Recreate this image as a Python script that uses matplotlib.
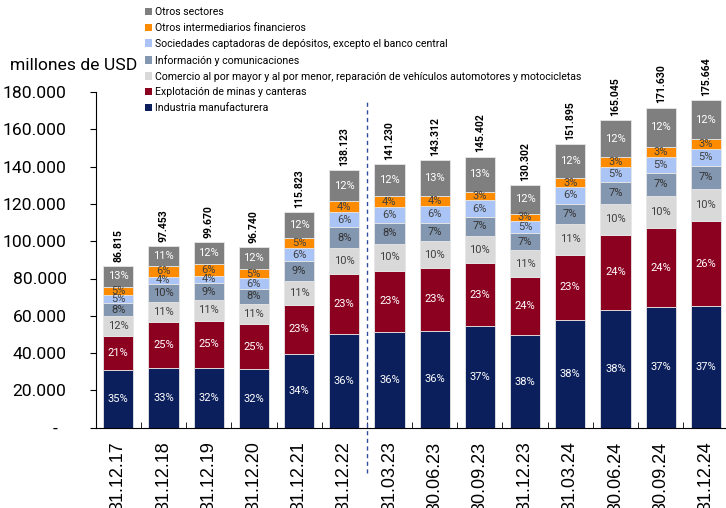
import matplotlib.pyplot as plt
import numpy as np
from matplotlib.patches import Patch

fechas = ['31.12.17', '31.12.18', '31.12.19', '31.12.20', '31.12.21', '31.12.22',
          '31.03.23', '30.06.23', '30.09.23', '31.12.23', '31.03.24', '30.06.24',
          '30.09.24', '31.12.24']
totales = [86815, 97453, 99670, 96740, 115823, 138123, 141230, 143312, 145402,
           130302, 151895, 165045, 171630, 175664]

# participacion (%) de cada sector, de abajo hacia arriba
industria = [35, 33, 32, 32, 34, 36, 36, 36, 37, 38, 38, 38, 37, 37]
minas = [21, 25, 25, 25, 23, 23, 23, 23, 23, 24, 23, 24, 24, 26]
comercio = [12, 11, 11, 11, 11, 10, 10, 10, 10, 11, 11, 10, 10, 10]
informacion = [8, 10, 9, 8, 9, 8, 8, 7, 7, 7, 7, 7, 7, 7]
sociedades = [5, 4, 4, 6, 6, 6, 6, 6, 6, 5, 6, 5, 5, 5]
otros_interm = [5, 6, 6, 5, 5, 4, 4, 4, 3, 3, 3, 3, 3, 3]
otros_sectores = [13, 11, 12, 12, 12, 12, 12, 13, 13, 12, 12, 12, 12, 12]

series = [
    ('Industria manufacturera', industria, '#0b1f5c', 'white'),
    ('Explotación de minas y canteras', minas, '#8c0020', 'white'),
    ('Comercio al por mayor y al por menor, reparación de vehículos automotores y motocicletas',
     comercio, '#d9d9d9', '#404040'),
    ('Información y comunicaciones', informacion, '#8497b0', '#333333'),
    ('Sociedades captadoras de depósitos, excepto el banco central', sociedades, '#a9c4f5', '#404040'),
    ('Otros intermediarios financieros', otros_interm, '#ff8c00', '#404040'),
    ('Otros sectores', otros_sectores, '#7f7f7f', 'white'),
]

plt.rcParams['font.family'] = ['Roboto', 'DejaVu Sans']

fig = plt.figure(figsize=(7.26, 5.08), dpi=100)
ax = fig.add_axes([95.7 / 726, 80.3 / 508, 632.8 / 726, 335.7 / 508])

x = np.arange(len(fechas))
tot = np.array(totales, dtype=float)
suma = np.sum([np.array(s[1]) for s in series], axis=0)
bottom = np.zeros(len(fechas))
for nombre, pct, color, tcolor in series:
    vals = tot * np.array(pct) / suma
    ax.bar(x, vals, 0.667, bottom=bottom, color=color, edgecolor='#e6e6e6', linewidth=0.6)
    for xi, b, v, p in zip(x, bottom, vals, pct):
        ax.text(xi, b + v / 2, f'{p}%', ha='center', va='center', fontsize=8, color=tcolor)
    bottom += vals

for xi, t in zip(x, totales):
    ax.annotate(f'{t:,}'.replace(',', '.'), (xi, t), xytext=(0, 3), textcoords='offset points',
                rotation=90, ha='center', va='bottom', fontsize=7.5, fontweight='bold')

ax.axvline(5.5, ymin=-0.135, ymax=0.97, color='#2f4f9a', lw=1, ls=(0, (3, 2.5)), clip_on=False)

ax.set_xlim(-0.5, 13.5)
ax.set_ylim(0, 180000)
ax.set_yticks(np.arange(0, 180001, 20000))
ax.set_yticklabels(['-  '] + [f'{v:,}'.replace(',', '.') for v in range(20000, 180001, 20000)])
ax.tick_params(axis='y', labelsize=12.6, length=4, pad=17)
ax.set_xticks(x)
ax.set_xticklabels(fechas, rotation=90, fontsize=13, family='Liberation Sans')
ax.tick_params(axis='x', length=0, pad=10)
ax.set_xticks(x[:-1] + 0.5, minor=True)
ax.tick_params(axis='x', which='minor', direction='in', length=4)
for s in ['top', 'right']:
    ax.spines[s].set_visible(False)

fig.text(10 / 726, 1 - 66 / 508, 'millones de USD', fontsize=12.6, va='center', ha='left')

handles = [Patch(facecolor=c, label=n) for n, p, c, t in series][::-1]
fig.legend(handles=handles, loc='upper left', bbox_to_anchor=(145 / 726, 1 - 7 / 508),
           frameon=False, fontsize=7.6, handlelength=0.7, handleheight=0.7,
           handletextpad=0.25, labelspacing=0.56, borderpad=0, borderaxespad=0)

fig.savefig('out.png', dpi=100)
